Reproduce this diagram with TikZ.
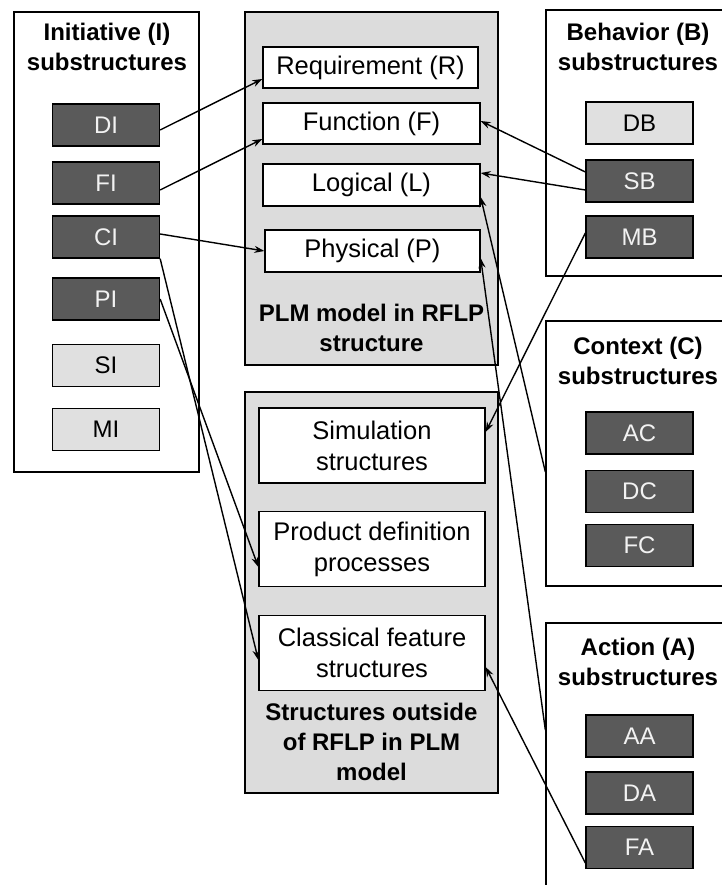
\documentclass[tikz,border=0pt]{standalone}
\usepackage{fontspec}
\setmainfont{Liberation Sans}
\usetikzlibrary{arrows.meta}
\definecolor{panelgray}{HTML}{DCDCDC}
\definecolor{boxdark}{HTML}{5A5A5A}
\definecolor{boxlight}{HTML}{E0E0E0}
\definecolor{labellight}{HTML}{F2F2F2}
\tikzset{
  panel/.style={draw=black, line width=1.3pt, fill=white, inner sep=0pt},
  graypanel/.style={panel, fill=panelgray},
  paneltitle/.style={align=center, font=\fontsize{24}{30}\selectfont\bfseries, inner sep=0pt},
  substruct/.style={draw=black, line width=1.3pt, minimum width=107pt, minimum height=42pt, inner sep=0pt,
    font=\fontsize{24}{28}\selectfont},
  darkbox/.style={substruct, fill=boxdark, text=labellight},
  lightbox/.style={substruct, fill=boxlight, text=black},
  rflpbox/.style={draw=black, line width=1.3pt, fill=white, minimum height=41pt, inner sep=0pt,
    font=\fontsize{25.5}{29}\selectfont},
  outbox/.style={draw=black, line width=1.3pt, fill=white, minimum width=226pt, minimum height=75pt,
    inner sep=0pt, align=center, font=\fontsize{25.5}{31}\selectfont},
  link/.style={draw=black, line width=1.4pt, -{Stealth[length=10pt,width=7pt]}}
}
\begin{document}
\begin{tikzpicture}[x=1pt, y=-1pt]
\useasboundingbox (0,0) rectangle (721,885);

% ---- panels ----
\node[panel, minimum width=185pt, minimum height=460pt] (ipanel) at (106.5,242) {};
\node[graypanel, minimum width=253pt, minimum height=353pt] (rflp) at (371.5,188.5) {};
\node[graypanel, minimum width=253pt, minimum height=401pt] (outside) at (371.5,592.5) {};
\node[panel, minimum width=184pt, minimum height=266pt] (bpanel) at (638,143) {};
\node[panel, minimum width=184pt, minimum height=265pt] (cpanel) at (638,453.5) {};
\node[panel, minimum width=184pt, minimum height=277pt] (apanel) at (638,761.5) {};

% ---- panel titles ----
\node[paneltitle] (ititle) at (107,47) {Initiative (I)\\substructures};
\node[paneltitle] (btitle) at (638,47) {Behavior (B)\\substructures};
\node[paneltitle] (ctitle) at (638,361) {Context (C)\\substructures};
\node[paneltitle] (atitle) at (638,662) {Action (A)\\substructures};
\node[paneltitle] (rtitle) at (371.5,328) {PLM model in RFLP\\structure};
\node[paneltitle] (otitle) at (371.5,742) {Structures outside\\of RFLP in PLM\\model};

% ---- initiative substructures ----
\node[darkbox] (DI) at (106,125) {DI};
\node[darkbox] (FI) at (106,183) {FI};
\node[darkbox] (CI) at (106,237) {CI};
\node[darkbox] (PI) at (106,299) {PI};
\node[lightbox] (SI) at (106,365.5) {SI};
\node[lightbox] (MI) at (106,429.5) {MI};

% ---- behavior substructures ----
\node[lightbox] (DB) at (639.5,123) {DB};
\node[darkbox] (SB) at (639.5,181) {SB};
\node[darkbox] (MB) at (639.5,237) {MB};

% ---- context substructures ----
\node[darkbox] (AC) at (639.5,433) {AC};
\node[darkbox] (DC) at (639.5,491.5) {DC};
\node[darkbox] (FC) at (639.5,545.5) {FC};

% ---- action substructures ----
\node[darkbox] (AA) at (639.5,736) {AA};
\node[darkbox] (DA) at (639.5,793) {DA};
\node[darkbox] (FA) at (639.5,847.5) {FA};

% ---- RFLP structure ----
\node[rflpbox, minimum width=215pt] (req) at (370.5,67.5) {Requirement (R)};
\node[rflpbox, minimum width=217pt] (fun) at (371.5,123.5) {Function (F)};
\node[rflpbox, minimum width=217pt, minimum height=42pt] (log) at (371.5,185) {Logical (L)};
\node[rflpbox, minimum width=215pt, minimum height=42pt] (phy) at (372.5,251) {Physical (P)};

% ---- structures outside RFLP ----
\node[outbox] (sim) at (372,445.5) {Simulation\\structures};
\node[outbox] (pdp) at (372,549) {Product definition\\processes};
\node[outbox] (cfs) at (372,653) {Classical feature\\structures};

% ---- connections ----
\draw[link] ([yshift=-5pt]DI.east) -- ([yshift=-11.5pt]req.west);
\draw[link] ([yshift=-7pt]FI.east) -- ([yshift=-15.5pt]fun.west);
\draw[link] ([yshift=3pt]CI.east) -- (phy.west);
\draw[link] (CI.south east) -- ([yshift=-7pt]cfs.west);
\draw[link] (PI.east) -- ([yshift=-18pt]pdp.west);
\draw[link] ([yshift=9pt]SB.west) -- ([yshift=2.5pt]fun.east);
\draw[link] ([yshift=-9pt]SB.west) -- ([yshift=12pt]log.east);
\draw[link] ([yshift=4pt]MB.west) -- ([yshift=13.5pt]sim.east);
\draw[link] ([yshift=-18.5pt]cpanel.west) -- ([yshift=-12pt]log.east);
\draw[link] ([yshift=31.5pt]apanel.west) -- ([yshift=-7pt]phy.east);
\draw[link] ([yshift=-15.5pt]FA.west) -- ([yshift=-14pt]cfs.east);
\end{tikzpicture}
\end{document}
